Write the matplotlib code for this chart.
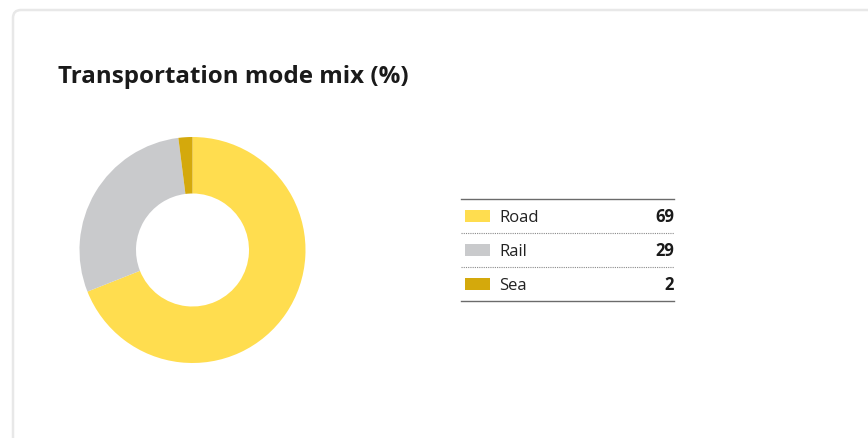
import matplotlib
matplotlib.use('Agg')
import matplotlib.pyplot as plt
from matplotlib.patches import FancyBboxPatch, Rectangle
from matplotlib.lines import Line2D

# data
modes = ['Road', 'Rail', 'Sea']
shares = [69, 29, 2]
colors = ['#FFDD4F', '#C9CACC', '#D4A90C']
title = 'Transportation mode mix (%)'

plt.rcParams['font.family'] = ['Open Sans', 'DejaVu Sans']

W, H = 868, 438
fig = plt.figure(figsize=(W/100, H/100), dpi=100, facecolor='w')

# overlay axes in pixel coords (y down)
bg = fig.add_axes([0, 0, 1, 1])
bg.set_xlim(0, W)
bg.set_ylim(H, 0)
bg.axis('off')

# card outline
card = FancyBboxPatch((13, 10), W + 40, H + 40, boxstyle='round,pad=0,rounding_size=8',
                      fc='w', ec='#E8E8E8', lw=1.8, zorder=0)
bg.add_patch(card)

bg.text(58, 77, title, fontsize=17.4, fontweight='bold', color='#1a1a1a', va='center', ha='left')

# donut
cx, cy, r = 192.5, 250, 113
ax = fig.add_axes([(cx - r)/W, (H - cy - r)/H, 2*r/W, 2*r/H])
ax.pie(shares, colors=colors, startangle=90, counterclock=False,
       wedgeprops=dict(width=0.5, linewidth=0))
ax.set_xlim(-1, 1)
ax.set_ylim(-1, 1)
ax.set_aspect('equal')
ax.axis('off')

# legend table
x0, x1 = 461, 674
y_top, row_h = 199, 34
bg.add_line(Line2D([x0, x1], [y_top, y_top], color='#6b6b6b', lw=1.0))
for i, (m, v, c) in enumerate(zip(modes, shares, colors)):
    yc = y_top + row_h*(i + 0.5)
    bg.add_patch(Rectangle((465, yc - 6), 25, 12, fc=c, ec='none'))
    bg.text(499, yc + 1.5, m, fontsize=12, color='#222222', va='center', ha='left')
    bg.text(x1, yc + 1.5, str(v), fontsize=12, fontweight='bold', color='#1a1a1a', va='center', ha='right')
    yl = y_top + row_h*(i + 1)
    if i < len(modes) - 1:
        bg.add_line(Line2D([x0, x1], [yl, yl], color='#8a8a8a', lw=0.8, ls=(0, (1, 1))))
    else:
        bg.add_line(Line2D([x0, x1], [yl, yl], color='#6b6b6b', lw=1.0))

fig.savefig('out.png', dpi=100, facecolor='w')
